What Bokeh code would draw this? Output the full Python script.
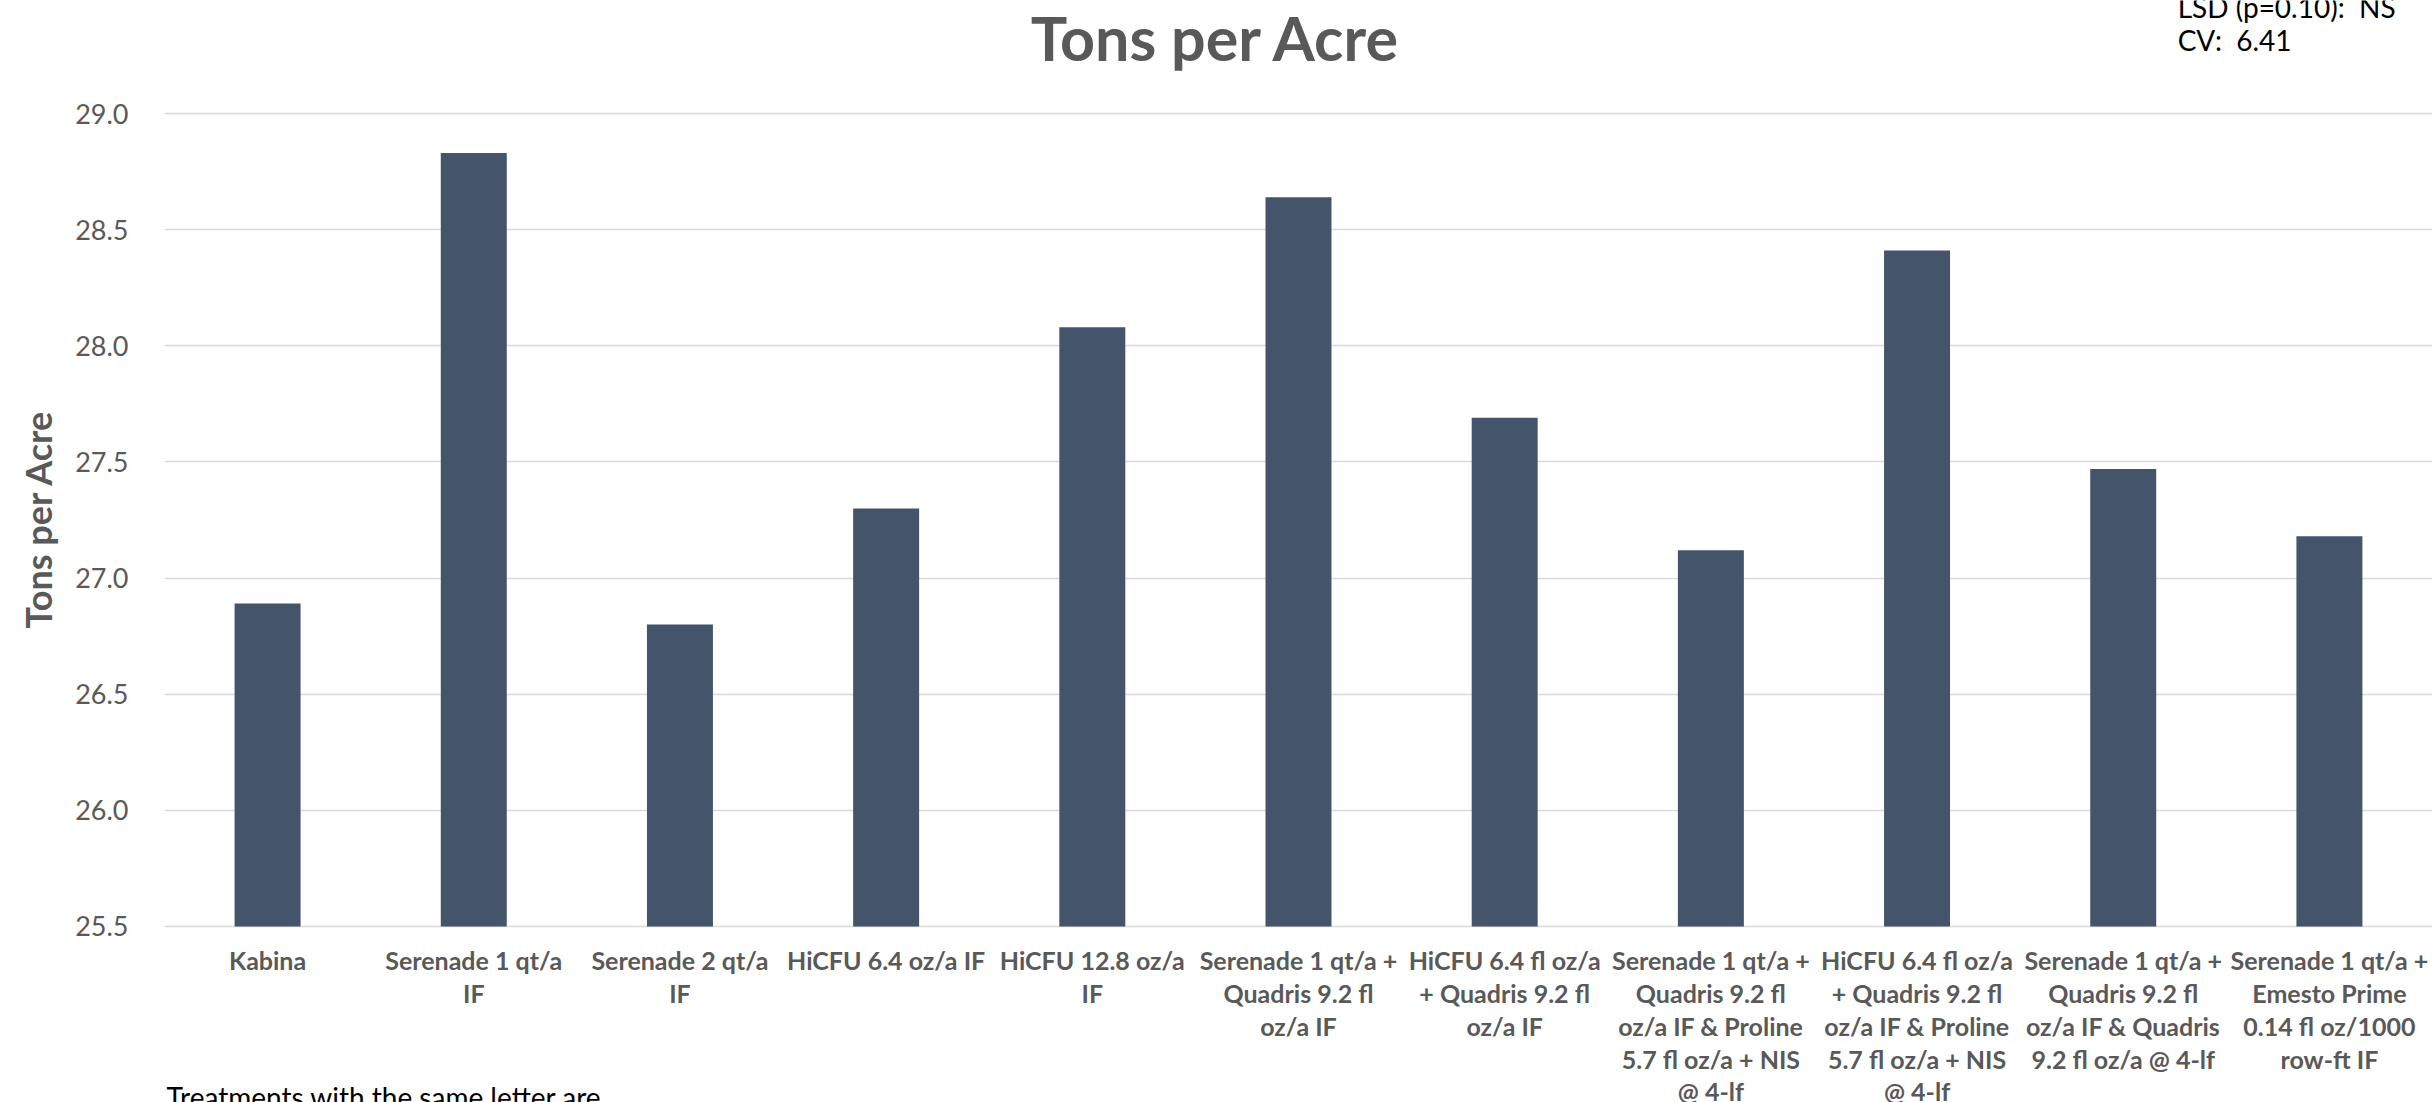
from bokeh.plotting import figure
from bokeh.models import ColumnDataSource, FactorRange, Range1d, FixedTicker, NumeralTickFormatter, Label, Title
from bokeh.embed import file_html
from bokeh.resources import INLINE

categories = [
    "Kabina",
    "Serenade 1 qt/a\nIF",
    "Serenade 2 qt/a\nIF",
    "HiCFU 6.4 oz/a IF",
    "HiCFU 12.8 oz/a\nIF",
    "Serenade 1 qt/a +\nQuadris 9.2 fl\noz/a IF",
    "HiCFU 6.4 fl oz/a\n+ Quadris 9.2 fl\noz/a IF",
    "Serenade 1 qt/a +\nQuadris 9.2 fl\noz/a IF & Proline\n5.7 fl oz/a + NIS\n@ 4-lf",
    "HiCFU 6.4 fl oz/a\n+ Quadris 9.2 fl\noz/a IF & Proline\n5.7 fl oz/a + NIS\n@ 4-lf",
    "Serenade 1 qt/a +\nQuadris 9.2 fl\noz/a IF & Quadris\n9.2 fl oz/a @ 4-lf",
    "Serenade 1 qt/a +\nEmesto Prime\n0.14 fl oz/1000\nrow-ft IF",
]
tons_per_acre = [26.89, 28.83, 26.80, 27.30, 28.08, 28.64, 27.69, 27.12, 28.41, 27.47, 27.18]
y_ticks = [25.5, 26.0, 26.5, 27.0, 27.5, 28.0, 28.5, 29.0]
y_base = 25.5

title_text = "Tons per Acre"
y_label = "Tons per Acre"
lsd_text = "LSD (p=0.10):\u00a0 NS"
cv_text = "CV:\u00a0 6.41"
footnote_text = "Treatments with the same letter are"

GREY = "#595959"
BAR = "#44546A"

# frame fills the canvas height; 29.0 sits 113px below the top, 25.5 sits 176px above the bottom
Y_LO, Y_HI = 24.7423, 29.4865

src = ColumnDataSource(data=dict(cat=categories, val=tons_per_acre))

p = figure(width=2432, height=1102, output_backend="svg", toolbar_location=None,
           x_range=FactorRange(*categories), y_range=Range1d(Y_LO, Y_HI))
p.title.visible = False
p.min_border_left = 163
p.min_border_right = 0
p.min_border_top = 0
p.min_border_bottom = 0
p.outline_line_color = None
p.background_fill_color = "white"
p.border_fill_color = "white"

p.vbar(x="cat", top="val", bottom=y_base, width=0.32, source=src,
       fill_color=BAR, line_color=None)

p.xgrid.grid_line_color = None
p.ygrid.grid_line_color = "#D9D9D9"
p.ygrid.grid_line_width = 1.5
p.yaxis.ticker = FixedTicker(ticks=y_ticks)
p.yaxis.formatter = NumeralTickFormatter(format="0.0")

for ax in (p.xaxis[0], p.yaxis[0]):
    ax.axis_line_color = None
    ax.major_tick_line_color = None
    ax.minor_tick_line_color = None
    ax.major_tick_out = 0
    ax.major_tick_in = 0
    ax.minor_tick_out = 0
    ax.major_label_text_color = GREY

p.yaxis.major_label_text_font = "Lato"
p.yaxis.major_label_text_font_size = "27px"
p.yaxis.major_label_standoff = 36

p.add_layout(Title(text=y_label, align="left", offset=474, text_font="Lato",
                   text_font_style="bold", text_font_size="36px", text_color=GREY,
                   standoff=26), "left")

p.xaxis.fixed_location = y_base
p.xaxis.major_label_text_font = "Lato"
p.xaxis.major_label_text_font_style = "bold"
p.xaxis.major_label_text_font_size = "25px"
p.xaxis.major_label_text_line_height = 1.09
p.xaxis.major_label_standoff = 19
p.xaxis.major_label_orientation = "horizontal"

# annotations in data space (frame: 206.27px per category, 232.29px per unit)
p.add_layout(Label(x=5.100, y=29.327, text=title_text, text_align="center",
                   text_baseline="alphabetic", text_font="Lato", text_font_style="bold",
                   text_font_size="61px", text_color=GREY))
p.add_layout(Label(x=9.764, y=29.4606, text=lsd_text, text_align="left",
                   text_baseline="alphabetic", text_font="Lato",
                   text_font_size="28px", text_color="black"))
p.add_layout(Label(x=9.764, y=29.3143, text=cv_text, text_align="left",
                   text_baseline="alphabetic", text_font="Lato",
                   text_font_size="28px", text_color="black"))
p.add_layout(Label(x=0.01, y=24.764, text=footnote_text, text_align="left",
                   text_baseline="alphabetic", text_font="Lato",
                   text_font_size="28px", text_color="black"))

open("out.html", "w").write(file_html(p, INLINE))
